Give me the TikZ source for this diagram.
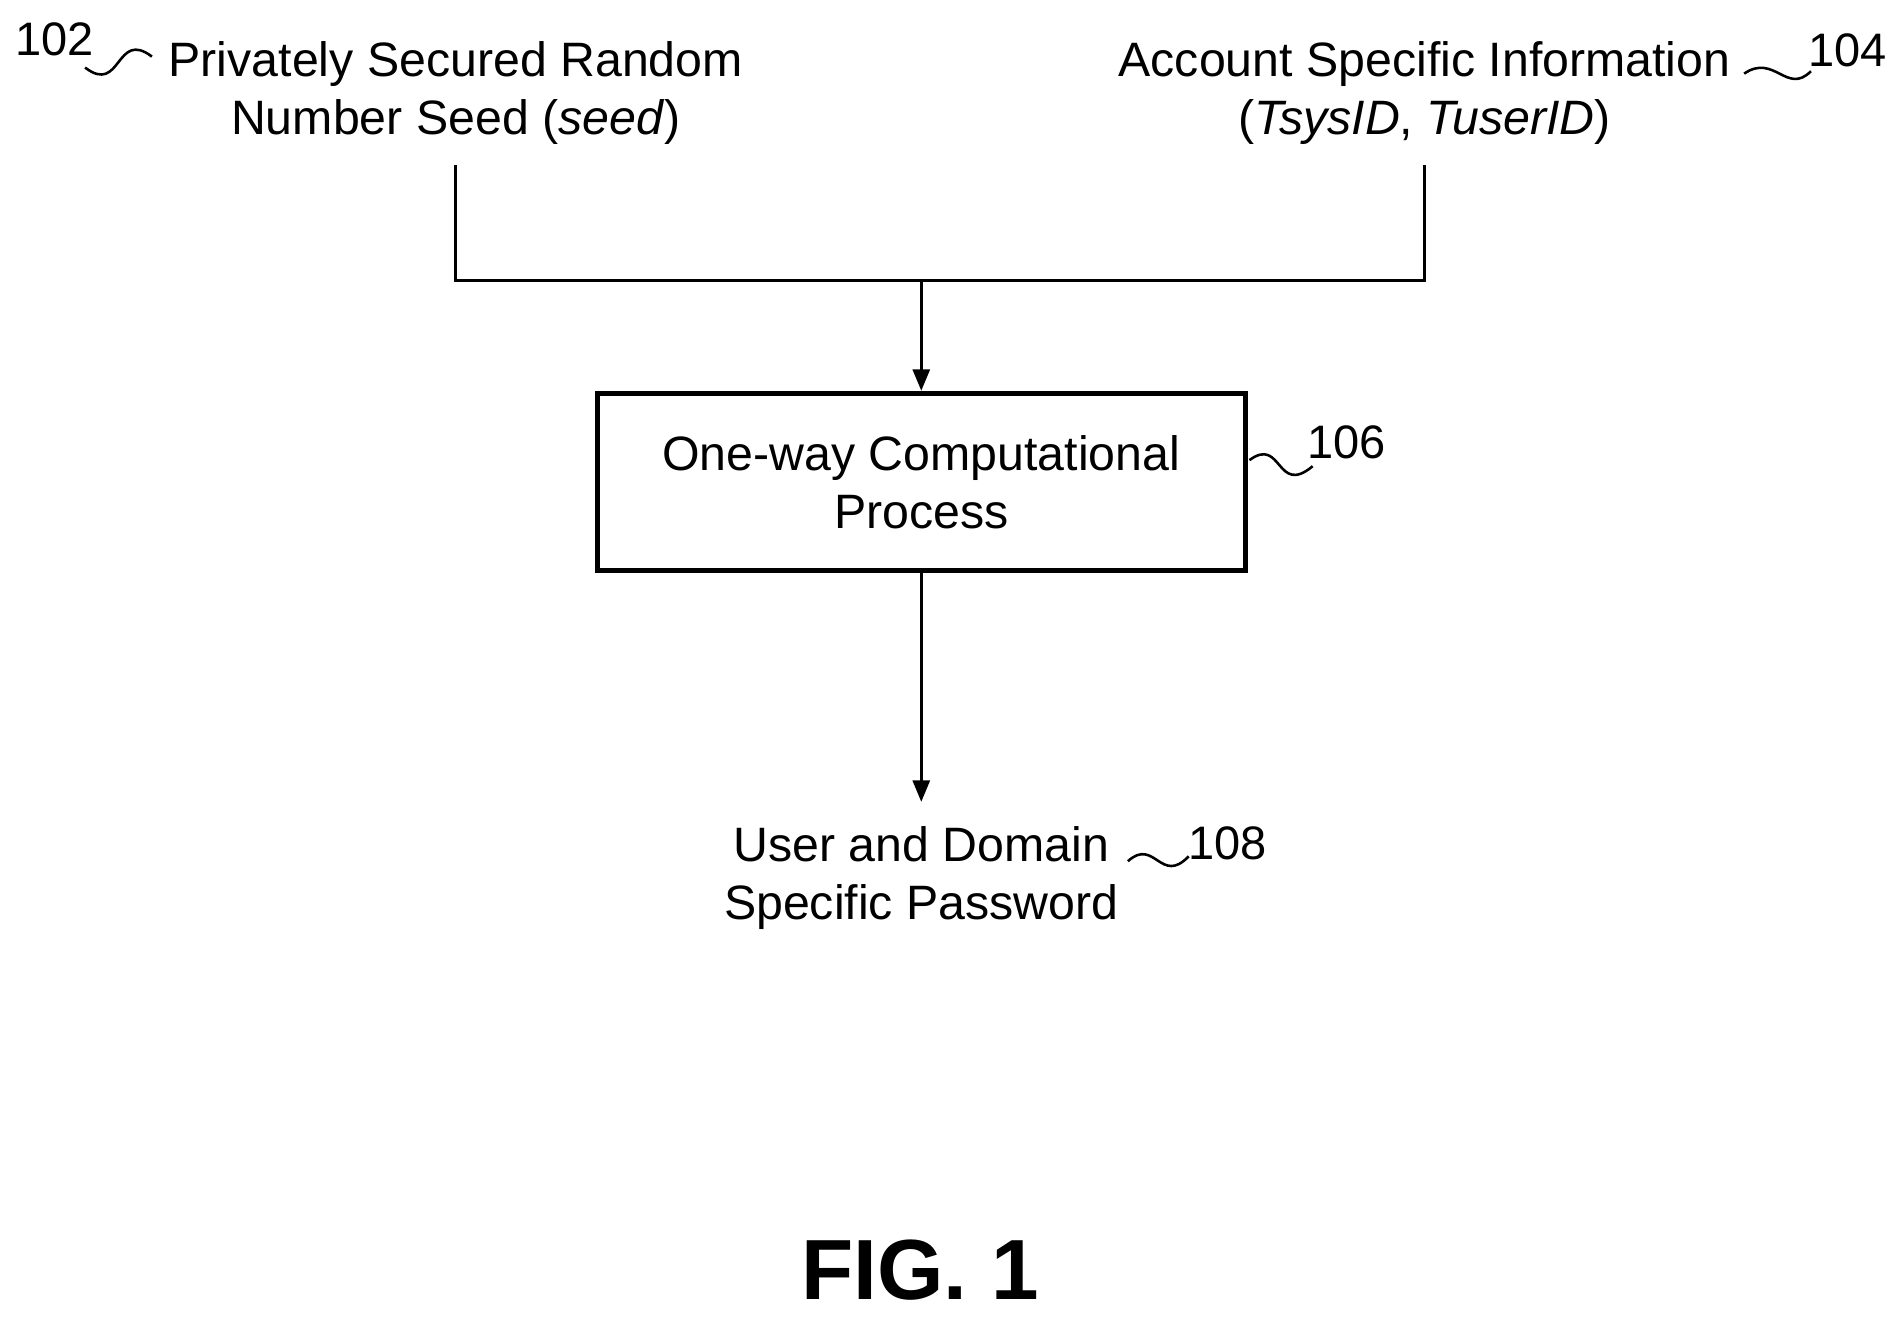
\documentclass[tikz,border=0pt]{standalone}
\usepackage{fontspec}
\setmainfont{Liberation Sans}
\usetikzlibrary{arrows.meta}
\tikzstyle{txt} = [align=center, font=\fontsize{11.3}{13.6}\selectfont, inner sep=0pt]
\tikzstyle{block} = [rectangle, draw, line width=1.2pt, minimum width=5.33cm, minimum height=1.46cm, txt]
\tikzstyle{ref} = [font=\fontsize{11}{12}\selectfont, inner sep=0pt]
\tikzstyle{line} = [draw, line width=0.6pt, -{Triangle[length=5pt,width=4pt]}]
\tikzstyle{wave} = [line width=0.6pt]

\begin{document}
\begin{tikzpicture}
  \useasboundingbox (0,0) rectangle (15.6,10.886);
  % Place nodes
  \node [txt] (seed) at (3.75,10.12) {Privately Secured Random\\Number Seed (\textit{seed})};
  \node [txt] (acct) at (11.72,10.12) {Account Specific Information\\(\textit{TsysID}, \textit{TuserID})};
  \coordinate (sa) at (3.75,9.53);
  \coordinate (aa) at (11.72,9.53);
  \coordinate (join) at (7.58,8.58);
  \node [block] (proc) at (7.58,6.92) {One-way Computational\\Process};
  \node [txt] (pwd) at (7.58,3.66) {User and Domain\\Specific Password};
  \node [font=\bfseries\fontsize{20}{24}\selectfont, inner sep=0pt] (fig) at (7.57,0.44) {FIG. 1};
  % Draw edges
  \draw [line width=0.6pt] (sa) |- (join) -| (aa);
  \path [line] (join) -- (proc.north);
  \path [line] (proc.south) -- ++(0,-1.88) coordinate (pe);
  % Reference numerals
  \node [ref] (r102) at (0.45,10.56) {102};
  \node [ref] (r104) at (15.2,10.47) {104};
  \node [ref] (r106) at (11.08,7.25) {106};
  \node [ref] (r108) at (10.1,3.95) {108};
  \draw [wave] (0.7,10.33) .. controls (1.0,10.1) and (0.95,10.65) .. (1.25,10.42);
  \draw [wave] (14.35,10.28) .. controls (14.6,10.45) and (14.7,10.1) .. (14.9,10.3);
  \draw [wave] (10.28,7.1) .. controls (10.55,7.3) and (10.5,6.8) .. (10.8,7.05);
  \draw [wave] (9.28,3.8) .. controls (9.5,4.0) and (9.55,3.6) .. (9.78,3.84);
\end{tikzpicture}
\end{document}
